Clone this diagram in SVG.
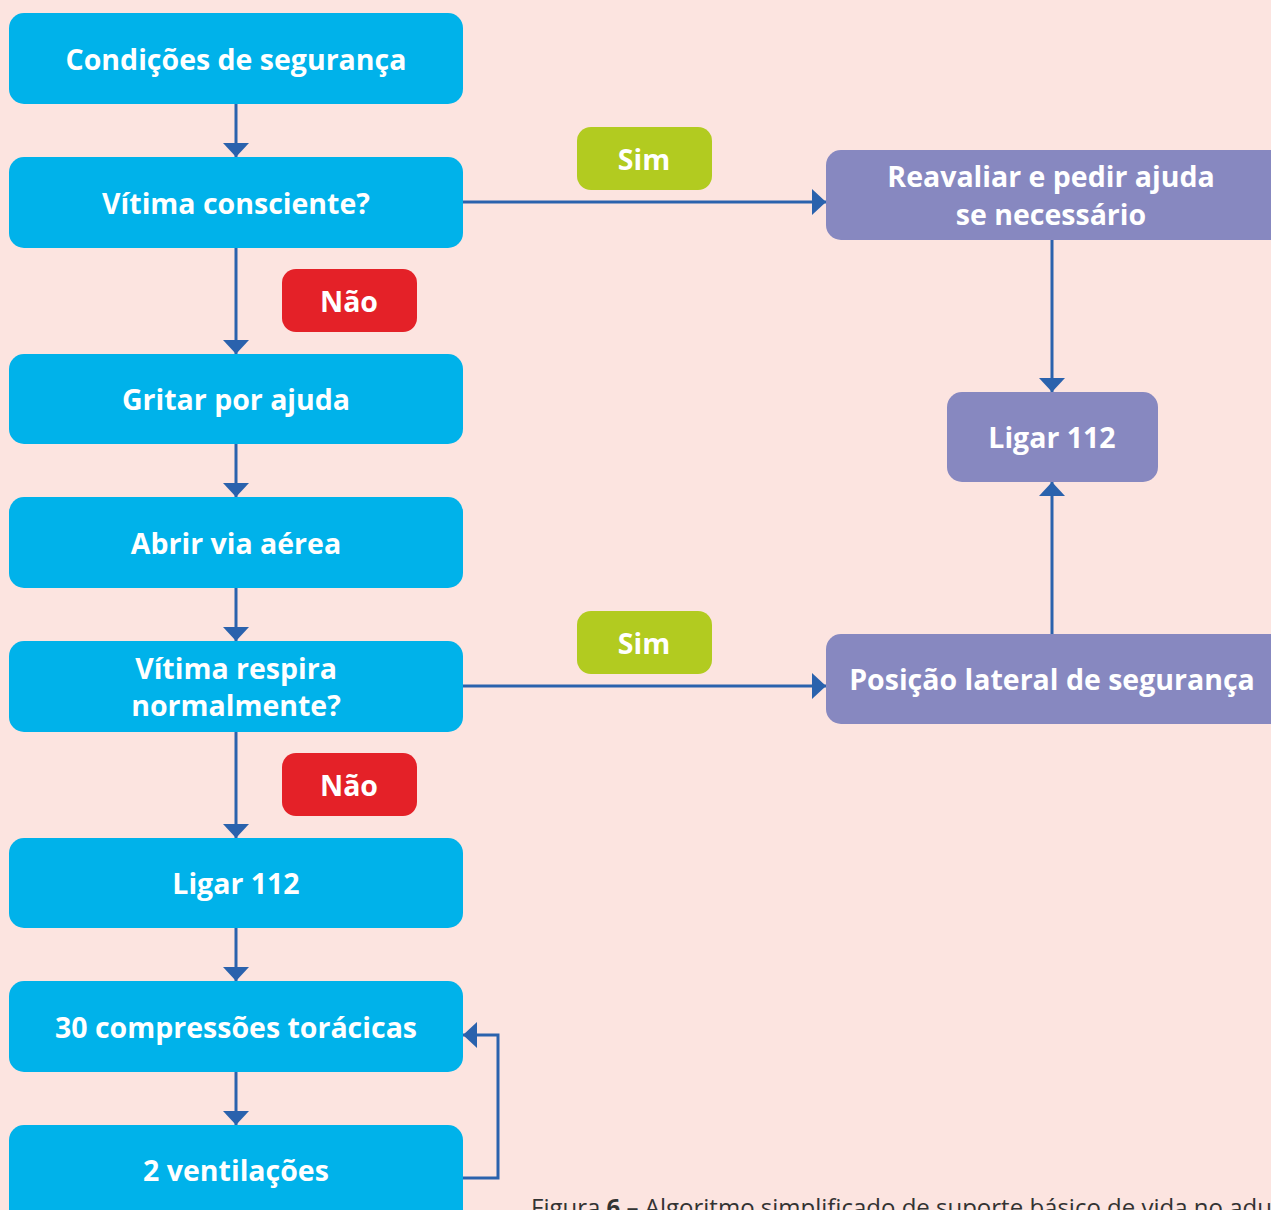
<svg xmlns="http://www.w3.org/2000/svg" width="1271" height="1210" viewBox="0 0 1271 1210">
<defs>
<style>
.bg{fill:#fce4e0}
.blue{fill:#00b2ea}
.purple{fill:#8788c0}
.green{fill:#b2cb20}
.red{fill:#e42128}
.t{font-family:"Open Sans","Noto Sans","Liberation Sans",sans-serif;font-weight:700;font-size:28.5px;fill:#ffffff;text-anchor:middle}
.c{stroke:#2a62ad;stroke-width:3;fill:none}
.cap{font-family:"Open Sans","Noto Sans","Liberation Sans",sans-serif;font-size:24px;fill:#333333}
</style>
<marker id="ah" viewBox="0 0 14 26" refX="14" refY="13" markerWidth="14" markerHeight="26" markerUnits="userSpaceOnUse" orient="auto">
<path d="M0,0 L14,13 L0,26 Z" fill="#2a62ad"/>
</marker>
</defs>
<rect class="bg" x="0" y="0" width="1271" height="1210"/>
<g id="connectors">
<line class="c" x1="236" y1="104" x2="236" y2="157" marker-end="url(#ah)"/>
<line class="c" x1="236" y1="248" x2="236" y2="354" marker-end="url(#ah)"/>
<line class="c" x1="236" y1="444" x2="236" y2="497" marker-end="url(#ah)"/>
<line class="c" x1="236" y1="588" x2="236" y2="641" marker-end="url(#ah)"/>
<line class="c" x1="236" y1="732" x2="236" y2="838" marker-end="url(#ah)"/>
<line class="c" x1="236" y1="928" x2="236" y2="981" marker-end="url(#ah)"/>
<line class="c" x1="236" y1="1072" x2="236" y2="1125" marker-end="url(#ah)"/>
<line class="c" x1="463" y1="202" x2="826" y2="202" marker-end="url(#ah)"/>
<line class="c" x1="463" y1="686" x2="826" y2="686" marker-end="url(#ah)"/>
<line class="c" x1="1052" y1="240" x2="1052" y2="392" marker-end="url(#ah)"/>
<line class="c" x1="1052" y1="634" x2="1052" y2="482" marker-end="url(#ah)"/>
<polyline class="c" points="463,1178 498,1178 498,1035 463,1035" marker-end="url(#ah)"/>
</g>
<g id="n1"><rect class="blue" x="9" y="13" width="454" height="91" rx="15"/><text class="t" x="236" y="70">Condições de segurança</text></g>
<g id="n2"><rect class="blue" x="9" y="157" width="454" height="91" rx="15"/><text class="t" x="236" y="214">Vítima consciente?</text></g>
<g id="n3"><rect class="blue" x="9" y="354" width="454" height="90" rx="15"/><text class="t" x="236" y="410">Gritar por ajuda</text></g>
<g id="n4"><rect class="blue" x="9" y="497" width="454" height="91" rx="15"/><text class="t" x="236" y="554">Abrir via aérea</text></g>
<g id="n5"><rect class="blue" x="9" y="641" width="454" height="91" rx="15"/><text class="t" x="236" y="679">Vítima respira</text><text class="t" x="236" y="716">normalmente?</text></g>
<g id="n6"><rect class="blue" x="9" y="838" width="454" height="90" rx="15"/><text class="t" x="236" y="894">Ligar 112</text></g>
<g id="n7"><rect class="blue" x="9" y="981" width="454" height="91" rx="15"/><text class="t" x="236" y="1038">30 compressões torácicas</text></g>
<g id="n8"><rect class="blue" x="9" y="1125" width="454" height="100" rx="15"/><text class="t" x="236" y="1181">2 ventilações</text></g>
<g id="n9"><rect class="purple" x="826" y="150" width="460" height="90" rx="15"/><text class="t" x="1051" y="187">Reavaliar e pedir ajuda</text><text class="t" x="1051" y="225">se necessário</text></g>
<g id="n10"><rect class="purple" x="947" y="392" width="211" height="90" rx="15"/><text class="t" x="1052" y="448">Ligar 112</text></g>
<g id="n11"><rect class="purple" x="826" y="634" width="460" height="90" rx="15"/><text class="t" x="1052" y="690">Posição lateral de segurança</text></g>
<g id="l1"><rect class="green" x="577" y="127" width="135" height="63" rx="14"/><text class="t" x="644" y="170">Sim</text></g>
<g id="l2"><rect class="green" x="577" y="611" width="135" height="63" rx="14"/><text class="t" x="644" y="654">Sim</text></g>
<g id="l3"><rect class="red" x="282" y="269" width="135" height="63" rx="14"/><text class="t" x="349" y="312">Não</text></g>
<g id="l4"><rect class="red" x="282" y="753" width="135" height="63" rx="14"/><text class="t" x="349" y="796">Não</text></g>
<text class="cap" x="531" y="1216">Figura <tspan font-weight="700">6</tspan> – Algoritmo simplificado de suporte básico de vida no adulto</text>
</svg>
